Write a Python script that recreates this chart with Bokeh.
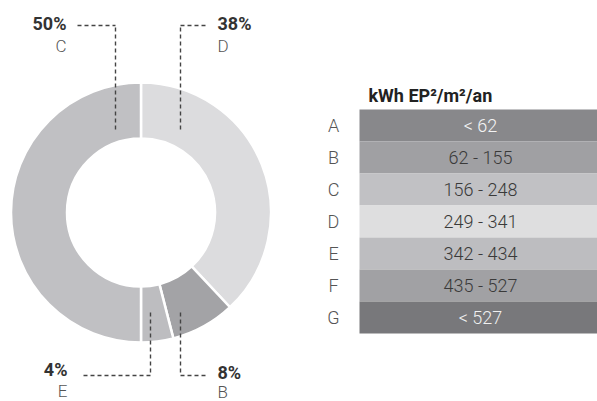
import math
from bokeh.plotting import figure
from bokeh.models import Range1d, ColumnDataSource
from bokeh.core.properties import value
from bokeh.embed import file_html
from bokeh.resources import INLINE

# ---- data ----
donut_classes = ["D", "B", "E", "C"]
donut_shares = [38, 8, 4, 50]
donut_colors = ["#dcdcde", "#a3a3a6", "#bdbdc0", "#c0c0c3"]

table_classes = ["A", "B", "C", "D", "E", "F", "G"]
table_ranges = ["< 62", "62 - 155", "156 - 248", "249 - 341", "342 - 434", "435 - 527", "< 527"]
table_colors = ["#88888b", "#a0a0a3", "#c1c1c4", "#dededf", "#bdbdc0", "#a1a1a4", "#78787b"]
table_text_colors = ["#f4f4f4", "#3a3a3a", "#3a3a3a", "#3a3a3a", "#3a3a3a", "#3a3a3a", "#f0f0f0"]
table_title = "kWh EP\u00b2/m\u00b2/an"

W, H = 597, 401
FONT = value("Roboto")
LIGHT = value("'Roboto Light', Roboto")

def fx(px):
    return px

def fy(py):
    return H - py

p = figure(width=W, height=H, output_backend="svg", toolbar_location=None,
           x_range=Range1d(0, W), y_range=Range1d(0, H), min_border=0)
p.axis.visible = False
p.grid.visible = False
p.outline_line_color = None
p.background_fill_color = "white"

# ---- donut ----
cx, cy = fx(140.5), fy(212)
r_out, r_in = 130, 74
total = sum(donut_shares)
starts, ends = [], []
cum = 0
for s in donut_shares:
    a0 = math.pi / 2 - 2 * math.pi * (cum + s) / total
    a1 = math.pi / 2 - 2 * math.pi * cum / total
    starts.append(a0)
    ends.append(a1)
    cum += s
src = ColumnDataSource(dict(start=starts, end=ends, color=donut_colors))
p.annular_wedge(x=cx, y=cy, inner_radius=r_in, outer_radius=r_out,
                start_angle="start", end_angle="end", fill_color="color",
                line_color="white", line_width=2.5, source=src)

# ---- leader lines & labels (layout positions per class) ----
leaders = {
    # class: (vx, vy0, vy1, hx0, hx1, hy, label_x, align, pct_y, letter_y)
    "C": (115, 129, 25, 77, 115, 25, 66, "right", 23, 45),
    "D": (180, 129, 25, 180, 205, 25, 217, "left", 23, 45),
    "E": (150, 312, 375, 83, 150, 375, 67, "right", 368.5, 390),
    "B": (180, 312, 375, 180, 205, 375, 217, "left", 371.5, 391),
}
for cls, share in zip(donut_classes, donut_shares):
    vx, vy0, vy1, hx0, hx1, hy, lx, al, py_, ly = leaders[cls]
    p.line([fx(vx), fx(vx)], [fy(vy0), fy(vy1)], line_color="#444444",
           line_width=1.4, line_dash="4 3")
    p.line([fx(hx0), fx(hx1)], [fy(hy), fy(hy)], line_color="#444444",
           line_width=1.4, line_dash="4 3")
    p.text(x=[fx(lx)], y=[fy(py_)], text=[f"{share}%"], text_font=FONT,
           text_font_size="18px", text_font_style="bold", text_color="#333333",
           text_align=al, text_baseline="middle")
    p.text(x=[fx(lx)], y=[fy(ly)], text=[cls], text_font=LIGHT,
           text_font_size="17px", text_color="#555555",
           text_align=al, text_baseline="middle")

# ---- table ----
row_h = 32
top0 = 109
tops = [fy(top0 + i * row_h) for i in range(len(table_classes))]
bottoms = [t - row_h for t in tops]
mids = [t - row_h / 2 for t in tops]
tsrc = ColumnDataSource(dict(top=tops, bottom=bottoms, mid=mids,
                             color=table_colors, tcolor=table_text_colors,
                             cls=table_classes, rng=table_ranges))
p.quad(left=fx(359), right=fx(610), top="top", bottom="bottom",
       fill_color="color", line_color=None, source=tsrc)
p.text(x=fx(480), y="mid", text="rng", text_color="tcolor", text_font=LIGHT,
       text_font_size="18px", text_align="center", text_baseline="middle",
       source=tsrc)
p.text(x=fx(333), y="mid", text="cls", text_color="#555555", text_font=LIGHT,
       text_font_size="18px", text_align="center", text_baseline="middle",
       source=tsrc)
p.text(x=[fx(368)], y=[fy(95)], text=[table_title], text_font=FONT,
       text_font_size="18px", text_font_style="bold", text_color="#222222",
       text_align="left", text_baseline="middle")

open("out.html", "w").write(file_html(p, INLINE))
